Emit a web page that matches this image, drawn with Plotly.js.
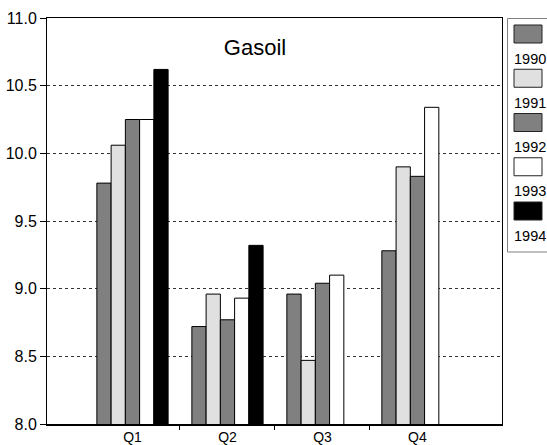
<!DOCTYPE html>
<html>
<head>
<meta charset="utf-8">
<script src="https://cdn.plot.ly/plotly-3.0.1.min.js"></script>
<style>html,body{margin:0;padding:0;background:#fff;}#chart{width:547px;height:445px;}</style>
</head>
<body>
<div id="chart"></div>
<script>
var quarters = ['Q1', 'Q2', 'Q3', 'Q4'];
var years = ['1990', '1991', '1992', '1993', '1994'];
var v1990 = [9.78, 8.72, 8.96, 9.28];
var v1991 = [10.06, 8.96, 8.47, 9.90];
var v1992 = [10.25, 8.77, 9.04, 9.83];
var v1993 = [10.25, 8.93, 9.10, 10.34];
var v1994 = [10.62, 9.32, null, null];
var yearColors = ['#808080', '#e0e0e0', '#808080', '#ffffff', '#000000'];
var boundaryTicks = [0.5, 1.5, 2.5];
var yTicks = [8.0, 8.5, 9.0, 9.5, 10.0, 10.5, 11.0];

var series = [v1990, v1991, v1992, v1993, v1994];
var FONT = 'Liberation Sans, Arial, sans-serif';
var xRange = [-0.9, 3.89];

var traces = series.map(function (vals, i) {
  return {
    type: 'bar',
    name: years[i],
    x: quarters,
    y: vals,
    marker: { color: yearColors[i], line: { color: '#000000', width: 1 } },
    showlegend: false,
    hoverinfo: 'x+y+name'
  };
});
// invisible trace to activate boundary tick axis
traces.push({ type: 'scatter', x: [xRange[0]], y: [null], xaxis: 'x2', yaxis: 'y', showlegend: false, hoverinfo: 'skip' });

// custom legend (swatch above label), in paper coordinates
var plotL = 47, plotR = 502, plotT = 18, plotB = 424;
function px2x(px) { return (px - plotL) / (plotR - plotL); }
function py2y(py) { return (plotB - py) / (plotB - plotT); }

var shapes = [{
  type: 'rect', xref: 'paper', yref: 'paper',
  x0: px2x(507.5), x1: px2x(560), y0: py2y(252), y1: py2y(18.5),
  line: { color: '#808080', width: 1 }, fillcolor: 'rgba(0,0,0,0)'
}];
var annotations = [];
years.forEach(function (yr, i) {
  var top = 25 + i * 44.25;
  shapes.push({
    type: 'rect', xref: 'paper', yref: 'paper',
    x0: px2x(514), x1: px2x(542), y0: py2y(top + 18), y1: py2y(top),
    line: { color: '#222222', width: 1 }, fillcolor: yearColors[i]
  });
  annotations.push({
    xref: 'paper', yref: 'paper', x: px2x(530), y: py2y(top + 33.5),
    xanchor: 'center', yanchor: 'middle', showarrow: false,
    text: yr, font: { family: FONT, size: 14.5, color: '#000' }
  });
});

var layout = {
  width: 547, height: 445,
  margin: { l: 47, r: 45, t: 18, b: 21, pad: 0 },
  paper_bgcolor: '#ffffff', plot_bgcolor: '#ffffff',
  barmode: 'group', bargap: 0.25, bargroupgap: 0,
  title: {
    text: 'Gasoil',
    font: { family: FONT, size: 22, color: '#000' },
    xref: 'container', x: 255 / 547, xanchor: 'center',
    yref: 'container', y: 1 - 47 / 445, yanchor: 'middle'
  },
  font: { family: FONT, color: '#000' },
  xaxis: {
    type: 'category', range: xRange,
    showline: true, linecolor: '#000', linewidth: 1.5, mirror: true,
    ticks: '', showgrid: false, zeroline: false,
    tickfont: { family: FONT, size: 14, color: '#000' },
    fixedrange: true
  },
  xaxis2: {
    overlaying: 'x', type: 'linear', range: xRange,
    tickmode: 'array', tickvals: boundaryTicks, ticks: 'outside', ticklen: 5,
    tickcolor: '#000', tickwidth: 1, showticklabels: false,
    showline: false, showgrid: false, zeroline: false, side: 'bottom',
    anchor: 'y', fixedrange: true
  },
  yaxis: {
    range: [8, 11], tickmode: 'array', tickvals: yTicks,
    tickformat: '.1f', ticks: 'outside', ticklen: 6, tickcolor: '#000', tickwidth: 1,
    showline: true, linecolor: '#000', linewidth: 1, mirror: true,
    showgrid: true, gridcolor: '#333333', griddash: 'dot', gridwidth: 1,
    zeroline: false,
    tickfont: { family: FONT, size: 16, color: '#000' },
    fixedrange: true
  },
  shapes: shapes,
  annotations: annotations
};

Plotly.newPlot('chart', traces, layout, { displayModeBar: false, staticPlot: true });
</script>
</body>
</html>
